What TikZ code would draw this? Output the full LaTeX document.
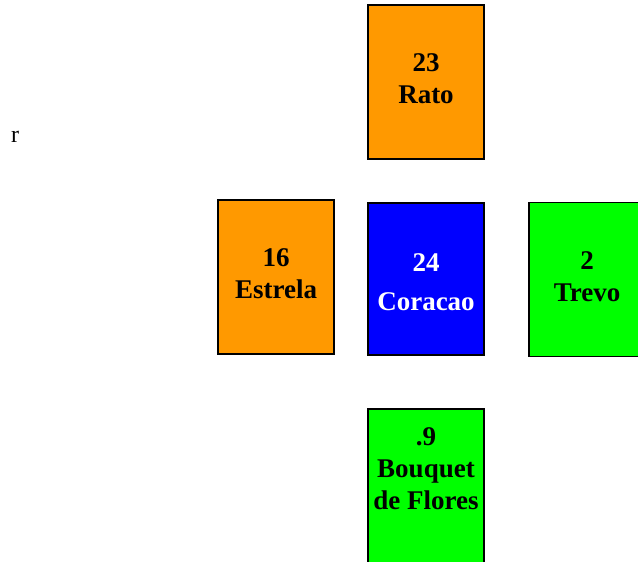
\documentclass[tikz,border=0pt]{standalone}
\usepackage{fontspec}
\setmainfont{Liberation Serif}
\definecolor{cardorange}{HTML}{FF9900}
\definecolor{cardblue}{HTML}{0000FF}
\definecolor{cardgreen}{HTML}{00FF00}
\begin{document}
\begin{tikzpicture}[x=1pt,y=-1pt,
  card/.style={draw=black, line width=1.4pt, rectangle, inner sep=0pt, minimum width=116pt, minimum height=154pt},
  cardtext/.style={align=center, font=\fontsize{27}{32}\selectfont\bfseries, inner sep=0pt}]
\useasboundingbox (0,0) rectangle (638,562);
\clip (0,0) rectangle (638,562);
\fill[white] (0,0) rectangle (638,562);
% cards
\node[card, fill=cardorange] (rato) at (426,82) {};
\node[card, fill=cardorange] (estrela) at (276,277) {};
\node[card, fill=cardblue, minimum height=152pt] (coracao) at (426,279) {};
\node[card, fill=cardgreen] (trevo) at (587,279.5) {};
\node[card, fill=cardgreen] (bouquet) at (426,486) {};
% texts
\node[cardtext] (t1) at (426,79) {23\\Rato};
\node[cardtext] (t2) at (276,274) {16\\Estrela};
\node[cardtext, align=center, font=\fontsize{27}{39}\selectfont\bfseries, text=white] (t3) at (426,282) {24\\Coracao};
\node[cardtext] (t4) at (587,277) {2\\Trevo};
\node[cardtext] (t5) at (426,469) {.9\\Bouquet\\de Flores};
\node[anchor=base west, inner sep=0pt, font=\fontsize{24}{28}\selectfont] (r) at (11,142) {r};
\end{tikzpicture}
\end{document}
